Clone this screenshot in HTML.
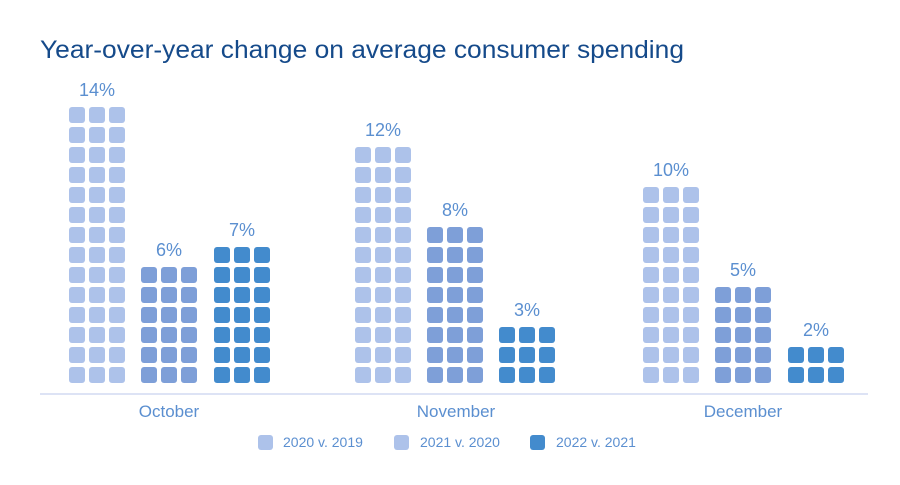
<!DOCTYPE html>
<html><head><meta charset="utf-8"><style>
body{margin:0;background:#fff;font-family:"Liberation Sans",sans-serif;}
</style></head><body>
<svg width="900" height="480" xmlns="http://www.w3.org/2000/svg" font-family="Liberation Sans, sans-serif">
<rect width="900" height="480" fill="#fff"/>
<text x="40" y="58" font-size="25" fill="#154a8a" textLength="644" lengthAdjust="spacingAndGlyphs">Year-over-year change on average consumer spending</text>
<line x1="40" y1="394" x2="868" y2="394" stroke="#dde3f5" stroke-width="2"/>
<g id="bars"></g>
<g font-size="17" fill="#5b8fd0" text-anchor="middle">
<text x="169" y="417">October</text>
<text x="456" y="417">November</text>
<text x="743" y="417">December</text>
</g>
<g font-size="14" fill="#5b8fd0">
<rect x="258" y="435" width="15" height="15" rx="3" fill="#adc2ea"/><text x="283" y="447">2020 v. 2019</text>
<rect x="394" y="435" width="15" height="15" rx="3" fill="#adc2ea"/><text x="420" y="447">2021 v. 2020</text>
<rect x="530" y="435" width="15" height="15" rx="3" fill="#438bcd"/><text x="556" y="447">2022 v. 2021</text>
</g>
</svg>
<script>
var g=document.getElementById('bars'),ns="http://www.w3.org/2000/svg";
var data=[[69,14,'#adc2ea'],[141,6,'#7e9fd8'],[214,7,'#438bcd'],
[355,12,'#adc2ea'],[427,8,'#7e9fd8'],[499,3,'#438bcd'],
[643,10,'#adc2ea'],[715,5,'#7e9fd8'],[788,2,'#438bcd']];
data.forEach(function(d){
for(var r=0;r<d[1];r++)for(var c=0;c<3;c++){
var e=document.createElementNS(ns,'rect');
e.setAttribute('x',d[0]+c*20);e.setAttribute('y',367-r*20);
e.setAttribute('width',16);e.setAttribute('height',16);e.setAttribute('rx',3);
e.setAttribute('fill',d[2]);g.appendChild(e);}
var t=document.createElementNS(ns,'text');
t.setAttribute('x',d[0]+28);t.setAttribute('y',367-(d[1]-1)*20-11);
t.setAttribute('text-anchor','middle');t.setAttribute('font-size','18');
t.setAttribute('fill','#5b8fd0');t.textContent=d[1]+'%';g.appendChild(t);
});
</script>
</body></html>
